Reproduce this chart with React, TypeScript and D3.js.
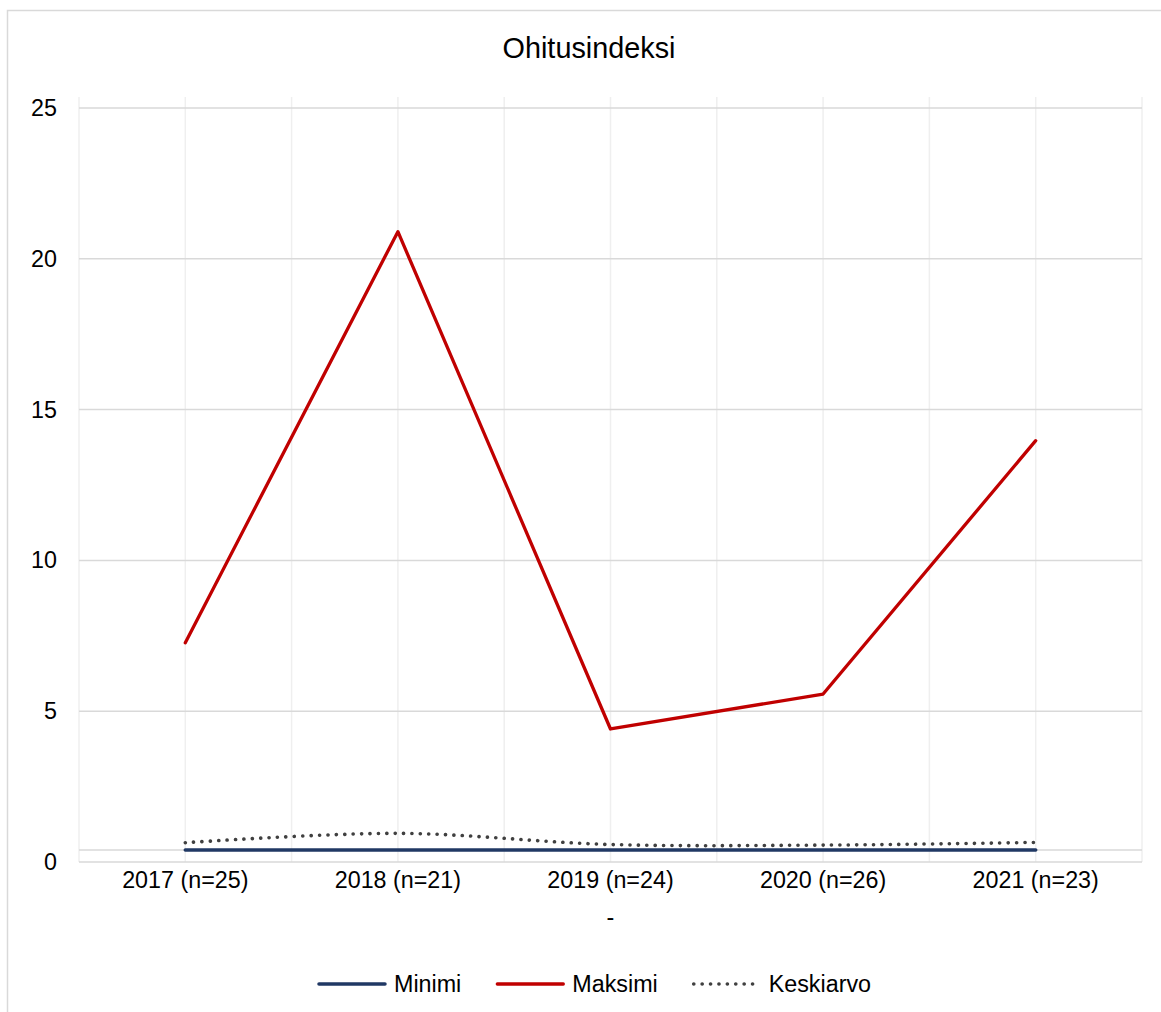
import React, { useEffect, useRef } from 'react';
import * as d3 from 'd3';

const categories = ['2017 (n=25)', '2018 (n=21)', '2019 (n=24)', '2020 (n=26)', '2021 (n=23)'];
const minimi = [0.4, 0.4, 0.4, 0.4, 0.4];
const maksimi = [7.27, 20.9, 4.41, 5.57, 13.97];
const keskiarvo = [0.64, 0.95, 0.58, 0.56, 0.65];
const yTicks = [0, 5, 10, 15, 20, 25];
const axisCross = 0.4;

const seriesNames = ['Minimi', 'Maksimi', 'Keskiarvo'];
const seriesValues = [minimi, maksimi, keskiarvo];

const W = 1161;
const H = 1012;
const FONT = '"Liberation Sans", Arial, sans-serif';

export default function App() {
  const svgRef = useRef<SVGSVGElement>(null);

  useEffect(() => {
    if (!svgRef.current) return;
    const svg = d3.select(svgRef.current);
    svg.selectAll('*').remove();

    const left = 79;
    const right = 1142;
    const top = 97;
    const bottom = 862;

    const x = d3.scaleBand<string>().domain(categories).range([left, right]).padding(0);
    const cx = (c: string) => (x(c) || 0) + x.bandwidth() / 2;
    const y = d3.scaleLinear().domain([0, 25]).range([bottom, 108]);

    // chart frame
    svg.append('path')
      .attr('d', `M7.5,${H}V10.5H${W}`)
      .attr('fill', 'none')
      .attr('stroke', '#d9d9d9')
      .attr('stroke-width', 1.5);

    svg.append('text')
      .attr('x', 589)
      .attr('y', 58)
      .attr('text-anchor', 'middle')
      .attr('font-family', FONT)
      .attr('font-size', 28.8)
      .attr('fill', '#000')
      .text('Ohitusindeksi');

    // vertical grid: band edges and centres
    const vx: number[] = [];
    categories.forEach(c => {
      vx.push(x(c) || 0);
      vx.push(cx(c));
    });
    vx.push(right);
    svg.append('g')
      .selectAll('line')
      .data(vx)
      .enter()
      .append('line')
      .attr('x1', d => d)
      .attr('x2', d => d)
      .attr('y1', top)
      .attr('y2', bottom)
      .attr('stroke', '#efefef')
      .attr('stroke-width', 1.5);

    // horizontal grid
    svg.append('g')
      .selectAll('line')
      .data([...yTicks, axisCross])
      .enter()
      .append('line')
      .attr('x1', left)
      .attr('x2', right)
      .attr('y1', d => y(d))
      .attr('y2', d => y(d))
      .attr('stroke', '#d9d9d9')
      .attr('stroke-width', 1.5);

    // y labels
    svg.append('g')
      .selectAll('text')
      .data(yTicks)
      .enter()
      .append('text')
      .attr('x', 57)
      .attr('y', d => y(d) + 8)
      .attr('text-anchor', 'end')
      .attr('font-family', FONT)
      .attr('font-size', 23.3)
      .attr('fill', '#000')
      .text(d => String(d));

    // x labels
    svg.append('g')
      .selectAll('text')
      .data(categories)
      .enter()
      .append('text')
      .attr('x', d => cx(d))
      .attr('y', 888)
      .attr('text-anchor', 'middle')
      .attr('font-family', FONT)
      .attr('font-size', 23.3)
      .attr('fill', '#000')
      .text(d => d);

    svg.append('text')
      .attr('x', (left + right) / 2)
      .attr('y', 925)
      .attr('text-anchor', 'middle')
      .attr('font-family', FONT)
      .attr('font-size', 23.3)
      .attr('fill', '#000')
      .text('-');

    const styles = [
      { color: '#203864', width: 3.5, dash: null as string | null, curve: d3.curveLinear },
      { color: '#c00000', width: 3.3, dash: null as string | null, curve: d3.curveLinear },
      { color: '#404040', width: 3.6, dash: '0.1 8.3', curve: d3.curveCatmullRom.alpha(0.5) },
    ];

    seriesValues.forEach((vals, i) => {
      const st = styles[i];
      const line = d3.line<number>()
        .x((_d, j) => cx(categories[j]))
        .y(d => y(d))
        .curve(st.curve);
      const p = svg.append('path')
        .attr('d', line(vals) || '')
        .attr('fill', 'none')
        .attr('stroke', st.color)
        .attr('stroke-width', st.width)
        .attr('stroke-linejoin', 'round')
        .attr('stroke-linecap', 'round');
      if (st.dash) p.attr('stroke-dasharray', st.dash);
    });

    // legend
    const lg = svg.append('g');
    let lx = 0;
    const ly = 984;
    seriesNames.forEach((name, i) => {
      const st = styles[i];
      const l = lg.append('line')
        .attr('x1', lx + 2)
        .attr('x2', lx + 68)
        .attr('y1', ly)
        .attr('y2', ly)
        .attr('stroke', st.color)
        .attr('stroke-width', st.width)
        .attr('stroke-linecap', 'round');
      if (st.dash) l.attr('stroke-dasharray', st.dash);
      const t = lg.append('text')
        .attr('x', lx + 77)
        .attr('y', ly + 8)
        .attr('font-family', FONT)
        .attr('font-size', 23.3)
        .attr('fill', '#000')
        .text(name);
      const tw = (t.node() as SVGTextElement).getComputedTextLength();
      lx += 77 + tw + 34;
    });
    const total = lx - 34;
    lg.attr('transform', `translate(${594 - total / 2},0)`);
  }, []);

  return (
    <svg
      ref={svgRef}
      width={W}
      height={H}
      style={{ position: 'absolute', left: 0, top: 0, background: '#fff' }}
    />
  );
}
